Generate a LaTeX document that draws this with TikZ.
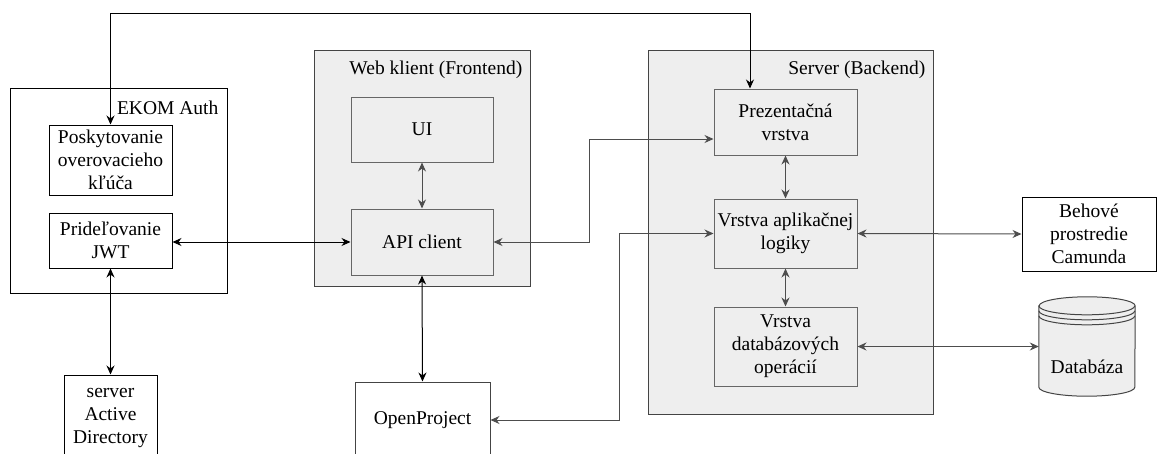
\documentclass[tikz,border=0pt]{standalone}
\usepackage{fontspec}
\setmainfont{Liberation Serif}
\usetikzlibrary{arrows.meta}

\definecolor{panelfill}{HTML}{EEEEEE}
\definecolor{panelline}{HTML}{444444}
\definecolor{boxline}{HTML}{666666}
\definecolor{wireline}{HTML}{4D4D4D}

\begin{document}
\begin{tikzpicture}[
  x=1pt, y=-1pt,
  font=\fontsize{19.5}{23}\selectfont,
  panel/.style={draw=panelline, fill=panelfill, line width=1pt, inner sep=0pt},
  outerbox/.style={draw=black, fill=white, line width=1pt, inner sep=0pt},
  tnode/.style={draw=black, fill=white, line width=1pt, align=center, inner sep=0pt},
  gnode/.style={draw=boxline, fill=panelfill, line width=1pt, align=center, inner sep=0pt},
  lnode/.style={inner sep=0pt},
  arw/.style={{Stealth[length=9pt,width=8pt]}-{Stealth[length=9pt,width=8pt]}, line width=1pt},
  garw/.style={arw, draw=wireline},
  dbshape/.style={draw=panelline, fill=panelfill, line width=1pt}
  ]

\clip (0,0) rectangle (1157,453);

% skupiny
\node [outerbox, minimum width=217pt, minimum height=205pt] (ekom) at (118.5,190.5) {};
\node [lnode, anchor=base east] (ekomlbl) at ([xshift=-9pt, yshift=-27pt]ekom.north east) {EKOM Auth};
\node [panel, minimum width=216pt, minimum height=236pt] (web) at (422,168) {};
\node [lnode, anchor=base east] (weblbl) at ([xshift=-8pt, yshift=-25pt]web.north east) {Web klient (Frontend)};
\node [panel, minimum width=285pt, minimum height=364pt] (srv) at (790.5,232) {};
\node [lnode, anchor=base east] (srvlbl) at ([xshift=-8pt, yshift=-25pt]srv.north east) {Server (Backend)};

% EKOM Auth
\node [tnode, minimum width=123pt, minimum height=70pt] (posk) at (110.5,160) {Poskytovanie\\overovacieho\\kľúča};
\node [tnode, minimum width=123pt, minimum height=55pt] (prid) at (110.5,240.5) {Prideľovanie\\JWT};
\node [tnode, minimum width=93pt, minimum height=86pt] (ad) at (110.5,418) {server\\Active\\Directory};

% frontend
\node [gnode, minimum width=142pt, minimum height=65pt] (ui) at (422,129.5) {UI};
\node [gnode, minimum width=142pt, minimum height=66pt] (api) at (422,242) {API client};
\node [tnode, draw=panelline, minimum width=135pt, minimum height=76pt] (op) at (422.5,420) {OpenProject};

% backend
\node [gnode, minimum width=143pt, minimum height=66pt] (prez) at (785.5,122) {Prezentačná\\vrstva};
\node [gnode, minimum width=143pt, minimum height=69pt] (app) at (785.5,233.5) {Vrstva aplikačnej\\logiky};
\node [gnode, minimum width=143pt, minimum height=79pt] (dbops) at (785.5,346.5) {Vrstva\\databázových\\operácií};

\node [tnode, minimum width=134pt, minimum height=74pt] (camunda) at (1089,234) {Behové\\prostredie\\Camunda};

% databaza
\node [lnode, minimum width=96pt, minimum height=99pt] (db) at (1087,346.5) {};
\draw [dbshape] ([yshift=-9pt]db.north west) -- ([yshift=9pt]db.south west)
  arc [start angle=180, end angle=360, x radius=48pt, y radius=9pt]
  -- ([yshift=-9pt]db.north east)
  arc [start angle=0, end angle=180, x radius=48pt, y radius=9pt] -- cycle;
\foreach \dy in {9,14,19}
  \draw [dbshape, fill=none] ([yshift=-\dy pt]db.north west)
    arc [start angle=180, end angle=360, x radius=48pt, y radius=9pt];
\node [lnode] (dblbl) at ([yshift=-20pt]db.center) {Databáza};

\coordinate (topline) at (0,13);

\draw [arw] (posk.north) -- (posk.north |- topline) -| ([xshift=-35.5pt]prez.north);
\draw [arw] (prid.south) -- (ad.north);
\draw [arw] (prid.east |- api.west) -- (api.west);
\draw [garw] (ui.south) -- (api.north);
\draw [arw] (api.south) -- (op.north);
\draw [garw] (api.east) -- ++(96,0) |- ([yshift=-17pt]prez.west);
\draw [garw] (op.east) -- ++(129,0) |- (app.west);
\draw [garw] (prez.south) -- (app.north);
\draw [garw] (app.south) -- (dbops.north);
\draw [garw] (app.east) -- (camunda.west);
\draw [garw] (dbops.east) -- (db.west);

\end{tikzpicture}
\end{document}
